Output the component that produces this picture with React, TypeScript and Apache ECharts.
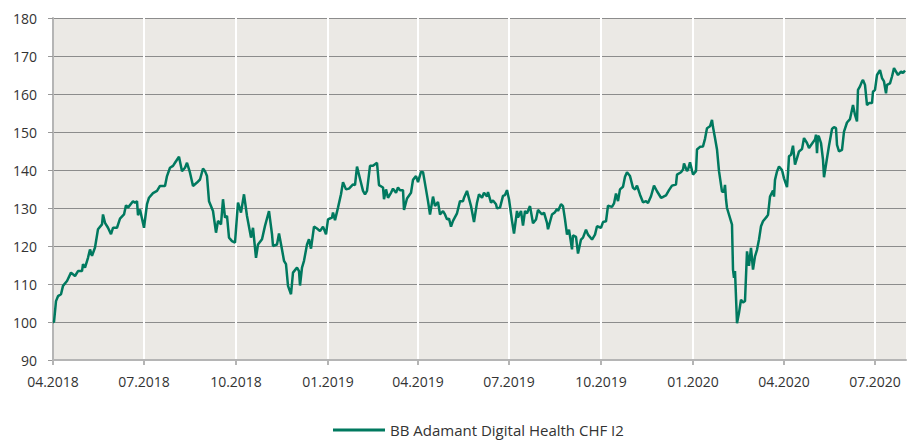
import React, { useEffect, useRef } from "react";
import * as echarts from "echarts";

const startDate = "2018-04-01";
const seriesName = "BB Adamant Digital Health CHF I2";

// Days since startDate
const days: number[] = [
  0, 1, 3, 5, 8, 10, 14, 18, 22, 25, 29, 30, 32, 35, 37, 39, 42, 45, 49, 50, 52, 55, 58, 60, 64, 67, 71, 73, 75, 80, 82, 84, 85, 87, 91, 94, 96, 100, 104, 107, 112, 114, 117, 120, 122, 126, 129, 132, 134, 137, 140, 144, 147, 150, 152, 154, 156, 160, 163, 165,
  168, 170, 172, 174, 176, 179, 182, 185, 188, 191, 194, 198, 200, 203, 205, 209, 212, 216, 219, 220, 224, 226, 229, 231, 233, 235, 238, 240, 244, 246, 247, 249, 251, 254, 256, 258, 261, 264, 267, 270, 273, 275, 279, 280, 282, 285, 288, 290, 293, 296, 300, 302, 304, 307, 310, 312, 314, 317, 320, 322, 324, 326, 330, 331, 333, 335, 338, 340, 343, 345,
  347, 350, 351, 354, 358, 360, 363, 365, 368, 370, 373, 375, 377, 380, 382, 385, 387, 390, 392, 394, 396, 398, 400, 404, 407, 410, 411, 414, 418, 421, 424, 426, 429, 431, 434, 435, 438, 440, 443, 444, 447, 450, 452, 454, 456, 459, 461, 464, 465, 468, 470, 472, 474, 477, 480, 483, 485, 489, 491, 494, 495, 499, 502, 504, 505, 508, 510,
  512, 514, 516, 519, 520, 523, 525, 528, 530, 533, 535, 539, 542, 544, 548, 550, 553, 555, 559, 561, 563, 565, 567, 570, 572, 574, 577, 580, 582, 584, 587, 590, 593, 595, 598, 601, 604, 608, 610, 613, 616, 619, 623, 624, 628, 630, 631, 634, 635, 637, 640, 643, 644, 647, 650, 652, 654, 657, 659, 660, 662, 664, 666, 669, 671, 672, 673, 674, 679, 680, 681, 682, 684, 686, 688, 690, 692, 694, 696, 698, 700, 702, 704, 706, 708, 710, 714, 715, 717, 720, 721, 722, 724, 726, 729, 731, 734, 735,
  736, 738, 740, 742, 744, 746, 749, 751, 754, 756, 760, 762, 763, 764, 765, 766, 768, 770, 771, 774, 776, 779, 781, 783, 784, 786, 789, 791, 794, 797, 800, 802, 804, 805, 807, 809, 810, 812, 814, 816, 819, 820, 822, 824, 827, 829, 831, 833, 834, 837, 839, 841, 843, 845, 848, 850, 852,
];

const values: number[] = [
  100, 100, 105.5, 106.8, 107.3, 109.5, 110.8, 113, 112.1, 113.4, 113.4, 115.2, 114.3, 116.9, 119.1, 117.4, 119.6, 124.4, 125.7, 128.3, 126.1, 124.8, 123.1, 124.8, 124.8, 127.2, 128.3, 130.7, 130.1, 131.8, 131.4, 131.8, 128.1, 129.6, 124.8, 131, 132.7, 133.9, 134.5, 135.8, 135.8, 138.4, 140.6, 141.1, 141.9, 143.5, 139.7, 140.6, 141.9, 139.3, 135.8, 136.7, 137.5, 140.4, 139.7, 138.4, 131.8, 129.2, 123.5, 126.6,
  125.7, 132.3, 127.5, 127.9, 122.2, 121.3, 120.9, 131.4, 128.8, 133.6, 127.9, 122.2, 124.8, 116.9, 120.4, 121.8, 125.3, 129.2, 123.1, 120, 120.4, 123.3, 119.1, 116.1, 115.2, 109.5, 107.3, 113, 114.3, 113.4, 109.6, 114.3, 116.1, 120.4, 121.8, 119.3, 125.1, 124.6, 123.9, 125.1, 123.1, 127, 127.5, 128.8, 126.8, 130.1, 133.6, 136.8, 134.9, 135.1, 136.2, 136, 140.9, 137.7, 134.5, 133.6, 134.5, 141.1, 141.1, 141.5, 141.9, 136, 135.4, 132.3, 134.9, 132.7, 134, 135.1, 134, 135.4,
  134.7, 134.7, 129.5, 132.5, 134, 137.4, 138.4, 136.8, 139.5, 139.5, 134.9, 131.8, 128.3, 133, 130.5, 131.6, 128.3, 129.2, 128.3, 127, 127.2, 125.1, 126.6, 128.6, 131.8, 131.8, 132.7, 134.5, 130.5, 126.3, 131.4, 133.6, 132.7, 134, 133, 134.2, 131.4, 132, 131, 129.9, 130.1, 133.2, 133.4, 134.7, 132.3, 126.6, 123.3, 129.2, 127.5, 129.2, 125.4, 129.2, 128.6, 130.5, 126, 127, 129.5, 128.3, 128.8, 126.1, 124.4, 128.3, 128.9, 129.8, 129.2, 131, 130.5,
  127, 123, 124.3, 119.1, 122.8, 122.4, 118, 121.7, 122.2, 124.3, 123, 121.7, 123, 125.2, 124.8, 126.3, 126.5, 130.6, 130.3, 131.2, 133.8, 131.8, 134.9, 135.6, 138.2, 139.4, 138.4, 135.3, 134.9, 135.9, 133.5, 131.5, 131.8, 131.3, 133.1, 135.9, 134.4, 132.7, 132.9, 133.3, 134.7, 135.9, 136.2, 138.8, 139.4, 140.1, 141.7, 139.7, 140.1, 142, 138.8, 139.7, 145.4, 146.1, 146.2, 148.2, 151, 151.5, 153.2, 151.3, 148.4, 145.4, 139.7, 134.3, 134.3, 136.1, 132.3, 130, 125.6, 113.8, 111.6, 113.4, 99.7, 102.4, 105.9, 105.1, 105.5, 118.6, 114.8, 119.5, 113.8, 117.3, 119, 121.7, 125.2, 126.5, 127.8, 128.2, 133, 134.6, 133, 137.4, 139.6, 140.9, 140, 137.8, 135.5, 139.1,
  143.6, 144, 146.4, 141.4, 143.1, 144.9, 145.5, 148.4, 147.1, 145.8, 147.3, 148, 149.3, 144.4, 149, 148.7, 147.1, 142.7, 138.1, 143.1, 146.4, 150.8, 151.3, 151, 146.6, 144.9, 145.3, 150.1, 152.5, 153.4, 157.1, 154.5, 152.8, 161.1, 162, 163.3, 163.7, 162.4, 157.1, 157.6, 157.6, 160.6, 161.1, 165, 166.3, 164.2, 163.3, 160.2, 162.4, 162.8, 164.6, 166.8, 165.9, 165, 165.9, 165.5, 166.2,
];

const quarterDates: string[] = [
  "2018-04-01", "2018-07-01", "2018-10-01", "2019-01-01", "2019-04-01",
  "2019-07-01", "2019-10-01", "2020-01-01", "2020-04-01", "2020-07-01",
];
const quarterLabels: string[] = [
  "04.2018", "07.2018", "10.2018", "01.2019", "04.2019",
  "07.2019", "10.2019", "01.2020", "04.2020", "07.2020",
];
const axisEndDate = "2020-08-01";
const yTicks = { min: 90, max: 180, step: 10 };

const DAY = 86400000;

export default function App() {
  const ref = useRef<HTMLDivElement>(null);
  useEffect(() => {
    if (!ref.current) return;
    const chart = echarts.init(ref.current, undefined, { renderer: "svg" });
    const t0 = Date.parse(startDate);
    const toDay = (s: string) => Math.round((Date.parse(s) - t0) / DAY);
    const data = days.map((d, i) => [d, values[i]]);
    const qDays = quarterDates.map(toDay);
    const font = "'Open Sans', sans-serif";
    chart.setOption({
      animation: false,
      textStyle: { fontFamily: font },
      grid: {
        left: 53,
        right: 7,
        top: 18,
        bottom: 82,
        show: true,
        backgroundColor: "#ebe9e5",
        borderWidth: 0,
      },
      legend: {
        left: 333,
        top: 420,
        icon: "rect",
        itemWidth: 52,
        itemHeight: 3,
        padding: 0,
        textStyle: { fontSize: 15, lineHeight: 20, color: "#333", fontFamily: font },
        data: [seriesName],
      },
      xAxis: {
        type: "value",
        min: 0,
        max: toDay(axisEndDate),
        axisLine: { show: true, lineStyle: { color: "#b5b5b5", width: 2 } },
        axisTick: { show: true, length: 5, customValues: qDays, lineStyle: { color: "#b5b5b5", width: 2 } },
        axisLabel: {
          customValues: qDays,
          margin: 14,
          fontSize: 14,
          color: "#333",
          fontFamily: font,
          formatter: (v: number) => {
            const idx = qDays.indexOf(v);
            return idx >= 0 ? quarterLabels[idx] : "";
          },
        },
        splitLine: { show: true, lineStyle: { color: "#ffffff", width: 2 } },
      },
      yAxis: {
        type: "value",
        min: yTicks.min,
        max: yTicks.max,
        interval: yTicks.step,
        axisLine: { show: true, lineStyle: { color: "#b5b5b5", width: 2 } },
        axisTick: { show: true, length: 5, lineStyle: { color: "#999" } },
        axisLabel: { margin: 16, fontSize: 14, color: "#333", fontFamily: font },
        splitLine: { show: true, lineStyle: { color: "#8c8c8c", width: 1 } },
      },
      series: [
        {
          name: seriesName,
          type: "line",
          data,
          symbol: "none",
          lineStyle: { color: "#00795f", width: 2.5 },
          itemStyle: { color: "#00795f" },
        },
      ],
    });
    return () => chart.dispose();
  }, []);
  return (
    <div
      ref={ref}
      style={{ position: "absolute", left: 0, top: 0, width: 913, height: 442 }}
    />
  );
}
